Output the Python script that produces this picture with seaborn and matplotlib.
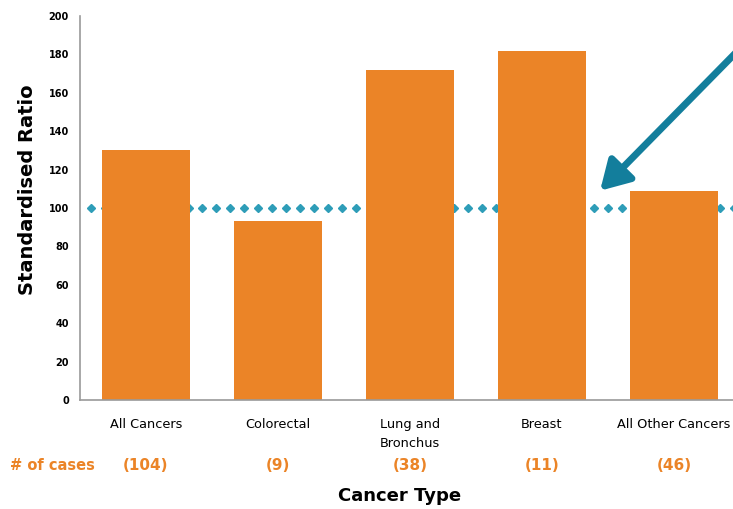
import matplotlib
matplotlib.use("Agg")
import matplotlib.pyplot as plt
import matplotlib.transforms as mtransforms
import numpy as np
import pandas as pd
import seaborn as sns

# Cancer incidence: standardised ratio by cancer type
categories = ["All Cancers", "Colorectal", "Lung and\nBronchus", "Breast", "All Other Cancers"]
ratios = [130, 93, 172, 182, 109]
case_counts = ["(104)", "(9)", "(38)", "(11)", "(46)"]
reference_level = 100
y_ticks = list(range(0, 201, 20))

bar_color = "#EB8427"
ref_color = "#2E9DB8"
arrow_color = "#137E9C"
axis_gray = "#9A9A9A"

sns.set_theme(style="white")
plt.rcParams["font.family"] = ["DejaVu Sans"]
plt.rcParams["text.color"] = "black"
plt.rcParams["axes.labelcolor"] = "black"
plt.rcParams["xtick.color"] = "black"
plt.rcParams["ytick.color"] = "black"

df = pd.DataFrame({"Cancer Type": categories, "Standardised Ratio": ratios})

fig = plt.figure(figsize=(7.33, 5.09), dpi=100)
ax = fig.add_axes([80 / 733, 109 / 509, 660 / 733, 384 / 509])

# reference line at 100, drawn as a row of diamonds behind the bars
ref_x = np.arange(-0.42, 4.6, 0.106)
ax.plot(ref_x, np.full_like(ref_x, reference_level), linestyle="none",
        marker="D", markersize=3.9, color=ref_color, zorder=1, clip_on=True)

sns.barplot(data=df, x="Cancer Type", y="Standardised Ratio", color=bar_color,
            width=0.66, saturation=1, ax=ax, zorder=2)
for p in ax.patches:
    p.set_zorder(2)
    p.set_edgecolor("none")

ax.set_xlim(-0.5, 4.5)
ax.set_ylim(0, 200)
ax.set_yticks(y_ticks)
ax.set_yticklabels([str(t) for t in y_ticks], fontsize=7, fontweight="bold")

# category labels sit at bar centres, tick marks at the boundaries
ax.set_xticks(np.arange(0.5, 4.5, 1.0))
ax.set_xticklabels([])
ax.set_xticks(np.arange(len(categories)), minor=True)
ax.set_xticklabels(categories, minor=True, fontsize=9.3, va="top", linespacing=1.55)
ax.tick_params(axis="x", which="minor", length=0, pad=13, colors="black")
ax.tick_params(axis="x", which="major", length=5, width=1, color=axis_gray, direction="out")
ax.tick_params(axis="y", length=5, width=1, color=axis_gray, labelcolor="black",
               direction="out", pad=3)

for side in ["top", "right"]:
    ax.spines[side].set_visible(False)
for side in ["left", "bottom"]:
    ax.spines[side].set_color(axis_gray)
    ax.spines[side].set_linewidth(1.2)

ax.set_xlabel("Cancer Type", fontsize=13, fontweight="bold", color="black")
ax.xaxis.set_label_coords(400 / 733, 1 - 496 / 509, transform=fig.transFigure)
ax.xaxis.label.set_va("center")
ax.set_ylabel("Standardised Ratio", fontsize=14, fontweight="bold", color="black")
ax.yaxis.set_label_coords(28 / 733, 1 - 190 / 509, transform=fig.transFigure)
ax.yaxis.label.set_va("center")

# case counts beneath each category
trans = mtransforms.blended_transform_factory(ax.transData, fig.transFigure)
for i, c in enumerate(case_counts):
    ax.text(i, 1 - 465 / 509, c, transform=trans, ha="center", va="center",
            fontsize=11, fontweight="bold", color=bar_color)
fig.text(10 / 733, 1 - 465 / 509, "# of cases", ha="left", va="center",
         fontsize=10.5, fontweight="bold", color=bar_color)

# arrow pointing at the reference line
ax.annotate("", xy=(3.44, 109), xytext=(4.47, 181),
            arrowprops=dict(arrowstyle="-|>,head_length=1.45,head_width=0.85",
                            color=arrow_color, lw=5, shrinkA=0, shrinkB=0),
            annotation_clip=False, zorder=5)

fig.savefig("out.png", dpi=100)
